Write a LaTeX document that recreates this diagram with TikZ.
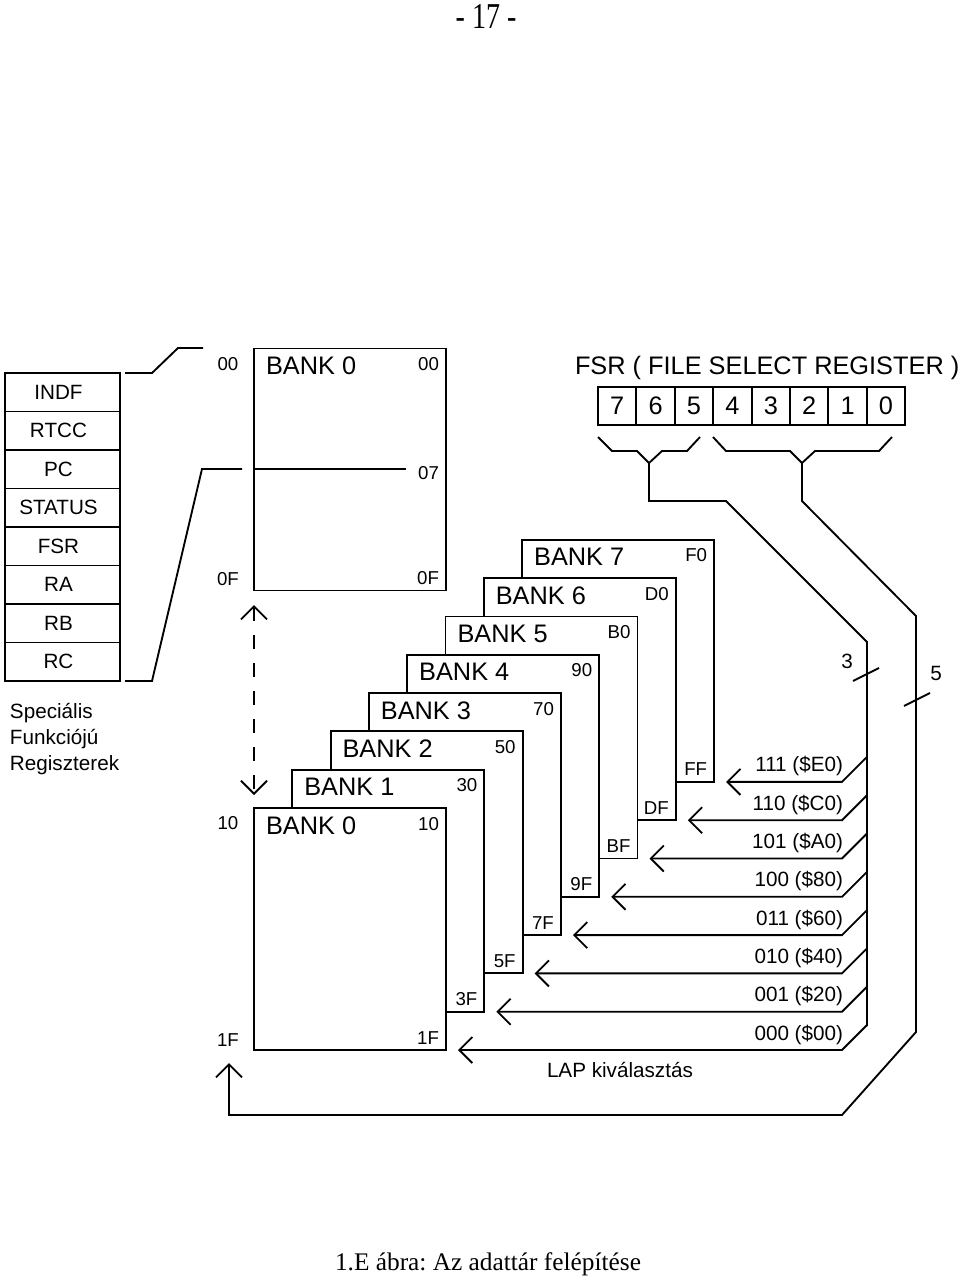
\documentclass[tikz,border=0pt]{standalone}
\usepackage{fontspec}
\setmainfont{Liberation Sans}
\newfontfamily\tnr{Liberation Serif}
\usepackage{graphicx}
\usetikzlibrary{arrows.meta,calc}
\frenchspacing
\tikzset{
  vtip/.tip={Straight Barb[length=9.75pt,width=19.5pt]},
  ln/.style={line width=1.4pt, line join=miter},
  bankbox/.style={draw, fill=white, line width=1.4pt, minimum width=144pt, minimum height=181.5pt, inner sep=0pt, outer sep=0pt},
  cell/.style={draw, line width=1.4pt, minimum width=28.8pt, minimum height=28.5pt, inner sep=0pt, outer sep=0pt, font=\fontsize{19}{22}\selectfont},
  reg/.style={draw, line width=1.4pt, minimum width=86.25pt, minimum height=28.875pt, inner sep=0pt, outer sep=0pt},
  txt/.style={inner sep=0pt, outer sep=0pt},
  bankf/.style={txt, font=\fontsize{19}{22}\selectfont},
  hexf/.style={txt, font=\fontsize{14}{16}\selectfont},
  lblf/.style={txt, font=\fontsize{15.5}{18}\selectfont},
}
\begin{document}
\begin{tikzpicture}[x=0.75pt,y=-0.75pt]
\useasboundingbox (0,0) rectangle (960,1279);

% page number and caption
\node[txt, font=\tnr\fontsize{21}{24}\selectfont] (pg) at (486,16) {\scalebox{1}[1.3]{- 17 -}};
\node[txt, font=\tnr\fontsize{19}{22}\selectfont, anchor=base] (cap) at (488,1270) {1.E ábra: Az adattár felépítése};

% special function registers
\foreach \n [count=\i from 0] in {INDF,RTCC,PC,STATUS,FSR,RA,RB,RC}{
  \node[reg] (r\i) at (62.5,{392.25+38.5*\i}) {};
  \node[lblf] (rt\i) at ($(r\i.center)+(-4,0)$) {\n};
}
\node[lblf, anchor=base west] (sp1) at (10,718) {Speciális};
\node[lblf, anchor=base west] (sp2) at (10,744) {Funkciójú};
\node[lblf, anchor=base west] (sp3) at (10,770) {Regiszterek};

% mapping lines
\draw[ln] (125,373) -- (152,373) -- (178,348) -- (203,348);
\draw[ln] (125,681) -- (152,681) -- (202,469) -- (242,469);

% upper bank 0
\node[bankbox] (ub) at (350,469.5) {};
\node[bankf, anchor=base west] (ubt) at ($(ub.north west)+(12,26)$) {BANK 0};
\node[hexf, anchor=base east] (ubh) at ($(ub.north east)+(-7,22)$) {00};
\draw[ln] (254,469) -- (406,469);
\node[hexf, anchor=base east] (ub7) at ($(ub.north east)+(-7,131)$) {07};
\node[hexf, anchor=base east] (ubl) at ($(ub.south east)+(-7,-6)$) {0F};

% left address labels
\node[hexf, anchor=base] (a00) at (228,370) {00};
\node[hexf, anchor=base] (a0F) at (228,585) {0F};
\node[hexf, anchor=base] (a10) at (228,829) {10};
\node[hexf, anchor=base] (a1F) at (228,1046) {1F};

% dashed double arrow
\draw[ln, dash pattern=on 10pt off 11pt, {vtip}-{vtip}] (254,605) -- (254,795);

% banks
\foreach \k/\hi/\lo in {7/F0/FF,6/D0/DF,5/B0/BF,4/90/9F,3/70/7F,2/50/5F,1/30/3F,0/10/1F}{
  \node[bankbox] (b\k) at ({350+38.3*\k},{929-38.3*\k}) {};
  \node[bankf, anchor=base west] (bt\k) at ($(b\k.north west)+(12,26)$) {BANK \k};
  \node[hexf, anchor=base east] (bh\k) at ($(b\k.north east)+(-7,22)$) {\hi};
  \node[hexf, anchor=base east] (bl\k) at ($(b\k.south east)+(-7,-6)$) {\lo};
}

% bank select arrows
\foreach \k/\code in {7/111 (\$E0),6/110 (\$C0),5/101 (\$A0),4/100 (\$80),3/011 (\$60),2/010 (\$40),1/001 (\$20),0/000 (\$00)}{
  \pgfmathsetmacro\yy{1050-38.3*\k}
  \draw[ln, -{vtip}] (867,{\yy-25}) -- (842,\yy) -- ($(b\k.south east)+(12,0)$);
  \node[lblf, anchor=base east] (rl\k) at (843,{\yy-10}) {\code};
}
\node[lblf, anchor=base west] (lap) at (547,1077) {LAP kiválasztás};

% FSR register
\node[bankf, anchor=base west] (fsr) at (575,374) {FSR ( FILE SELECT REGISTER )};
\foreach \d [count=\i from 0] in {7,6,5,4,3,2,1,0}
  \node[cell] (c\i) at ({617.2+38.4*\i},406) {\d};

% braces
\draw[ln] (598,437) -- (612,451) -- (637,451) -- (649,463) -- (662,451) -- (687,451) -- (700,437);
\draw[ln] (713,437) -- (726,451) -- (790,451) -- (802,463) -- (815,451) -- (879,451) -- (892,437);

% 3-bit bus
\draw[ln] (649,463) -- (649,501) -- (726,501) -- (867,642) -- (867,1026);
\draw[ln] (853,681) -- (879,668);
\node[lblf] (n3) at (847,661) {3};

% 5-bit bus
\draw[ln, -{vtip}] (802,463) -- (802,501) -- (916,616) -- (916,1032) -- (842,1115) -- (229,1115) -- (229,1063);
\draw[ln] (904,706) -- (930,693);
\node[lblf] (n5) at (936,673) {5};
\end{tikzpicture}
\end{document}
